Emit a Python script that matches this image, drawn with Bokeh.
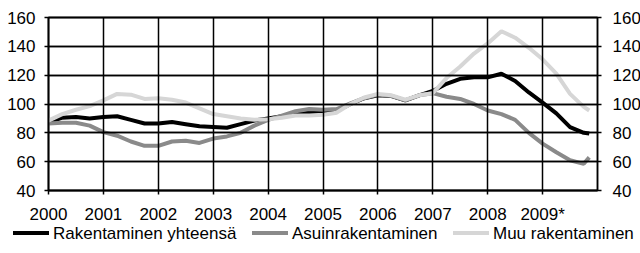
from bokeh.plotting import figure
from bokeh.layouts import column
from bokeh.models import LinearAxis, FixedTicker, Range1d, Div
from bokeh.embed import file_html
from bokeh.resources import INLINE

# --- data ---
years = [2000.00, 2000.25, 2000.50, 2000.75, 2001.00, 2001.25, 2001.50, 2001.75,
         2002.00, 2002.25, 2002.50, 2002.75, 2003.00, 2003.25, 2003.50, 2003.75,
         2004.00, 2004.25, 2004.50, 2004.75, 2005.00, 2005.25, 2005.50, 2005.75,
         2006.00, 2006.25, 2006.50, 2006.75, 2007.00, 2007.25, 2007.50, 2007.75,
         2008.00, 2008.25, 2008.50, 2008.75, 2009.00, 2009.25, 2009.50, 2009.75,
         2009.85]

rakentaminen_yhteensa = [87, 90.5, 91, 90, 91, 91.5, 89, 86.5,
                         86.5, 87.5, 86, 84.5, 84, 83.5, 86, 88.5,
                         90, 91.5, 93, 94, 94.5, 95, 100, 104,
                         106, 105.5, 102.5, 106, 109, 114, 117.5, 118.5,
                         118.5, 121, 116, 108, 101, 93.5, 84, 80,
                         79.5]

asuinrakentaminen = [86.5, 87, 87, 85, 80.5, 78, 74, 71,
                     71, 74, 74.5, 73, 76, 77.5, 80, 85,
                     89, 92, 95, 96.5, 96, 96.5, 100.5, 104,
                     106.5, 105.5, 102.5, 106, 107.5, 105, 103.5, 100,
                     95.5, 93, 89, 80, 72.5, 66.5, 61, 58.5,
                     63]

muu_rakentaminen = [88.5, 93, 96, 98.5, 102.5, 107, 106.5, 103.5,
                    104, 103, 101, 97, 93, 91.5, 90, 89,
                    89.5, 90.5, 92, 92, 92.5, 94, 100, 104.5,
                    107, 106, 103, 106, 107.5, 118, 126, 135,
                    142, 150.5, 146, 139, 131, 121, 107, 98,
                    95.5]

series_names = ["Rakentaminen yhteensä", "Asuinrakentaminen", "Muu rakentaminen"]
series_colors = ["black", "#8a8a8a", "#d6d6d6"]
year_ticks = [2000, 2001, 2002, 2003, 2004, 2005, 2006, 2007, 2008, 2009]
year_labels = ["2000", "2001", "2002", "2003", "2004", "2005", "2006", "2007", "2008", "2009*"]
value_ticks = [40, 60, 80, 100, 120, 140, 160]

FONT = "Liberation Sans"
FS = "17px"
FRAME_W, FRAME_H = 549, 173

p = figure(frame_width=FRAME_W, frame_height=FRAME_H,
           x_range=Range1d(2000, 2010), y_range=Range1d(value_ticks[0], value_ticks[-1]),
           output_backend="svg", toolbar_location=None,
           min_border_left=48, min_border_right=43,
           min_border_top=17, min_border_bottom=33)
p.background_fill_color = "white"
p.border_fill_color = "white"
p.outline_line_color = "black"
p.outline_line_width = 1.5
p.xgrid.visible = False
p.ygrid.visible = False

# axes; their inward ticks span the whole frame and serve as the grid
p.xaxis.ticker = FixedTicker(ticks=year_ticks)
p.xaxis.major_label_overrides = {t: l for t, l in zip(year_ticks, year_labels)}
p.yaxis.ticker = FixedTicker(ticks=value_ticks)
right_axis = LinearAxis(ticker=FixedTicker(ticks=value_ticks))
p.add_layout(right_axis, "right")

for ax in (p.xaxis[0], p.yaxis[0], right_axis):
    ax.axis_line_color = "black"
    ax.axis_line_width = 1.5
    ax.major_tick_line_color = "black"
    ax.major_tick_line_width = 1.5
    ax.major_tick_out = 4
    ax.major_tick_in = 0
    ax.minor_tick_line_color = None
    ax.major_label_text_font = FONT
    ax.major_label_text_font_size = FS
    ax.major_label_text_color = "black"
p.xaxis.major_tick_in = FRAME_H
p.yaxis.major_tick_in = FRAME_W
p.xaxis.major_label_standoff = 10
p.yaxis.major_label_standoff = 9
right_axis.major_label_standoff = 11

# data lines
p.line(years, rakentaminen_yhteensa, line_color=series_colors[0], line_width=4)
p.line(years, asuinrakentaminen, line_color=series_colors[1], line_width=4)
p.line(years, muu_rakentaminen, line_color=series_colors[2], line_width=4)

# legend strip below the chart
sample_left = [13, 252, 453]
parts = []
for name, col, left in zip(series_names, series_colors, sample_left):
    parts.append(
        f'<span style="position:absolute;left:{left}px;top:5px;width:36px;height:4px;'
        f'background:{col};"></span>'
        f'<span style="position:absolute;left:{left + 40}px;top:-1px;line-height:17px;'
        f'white-space:nowrap;">{name}</span>')
legend_html = ('<div style="position:relative;width:640px;height:30px;'
               f'font-family:\'{FONT}\';font-size:{FS};color:black;">'
               + "".join(parts) + '</div>')
legend_div = Div(text=legend_html, width=640, height=30, margin=0)

layout = column(p, legend_div, spacing=0)
open("out.html", "w").write(file_html(layout, INLINE))
